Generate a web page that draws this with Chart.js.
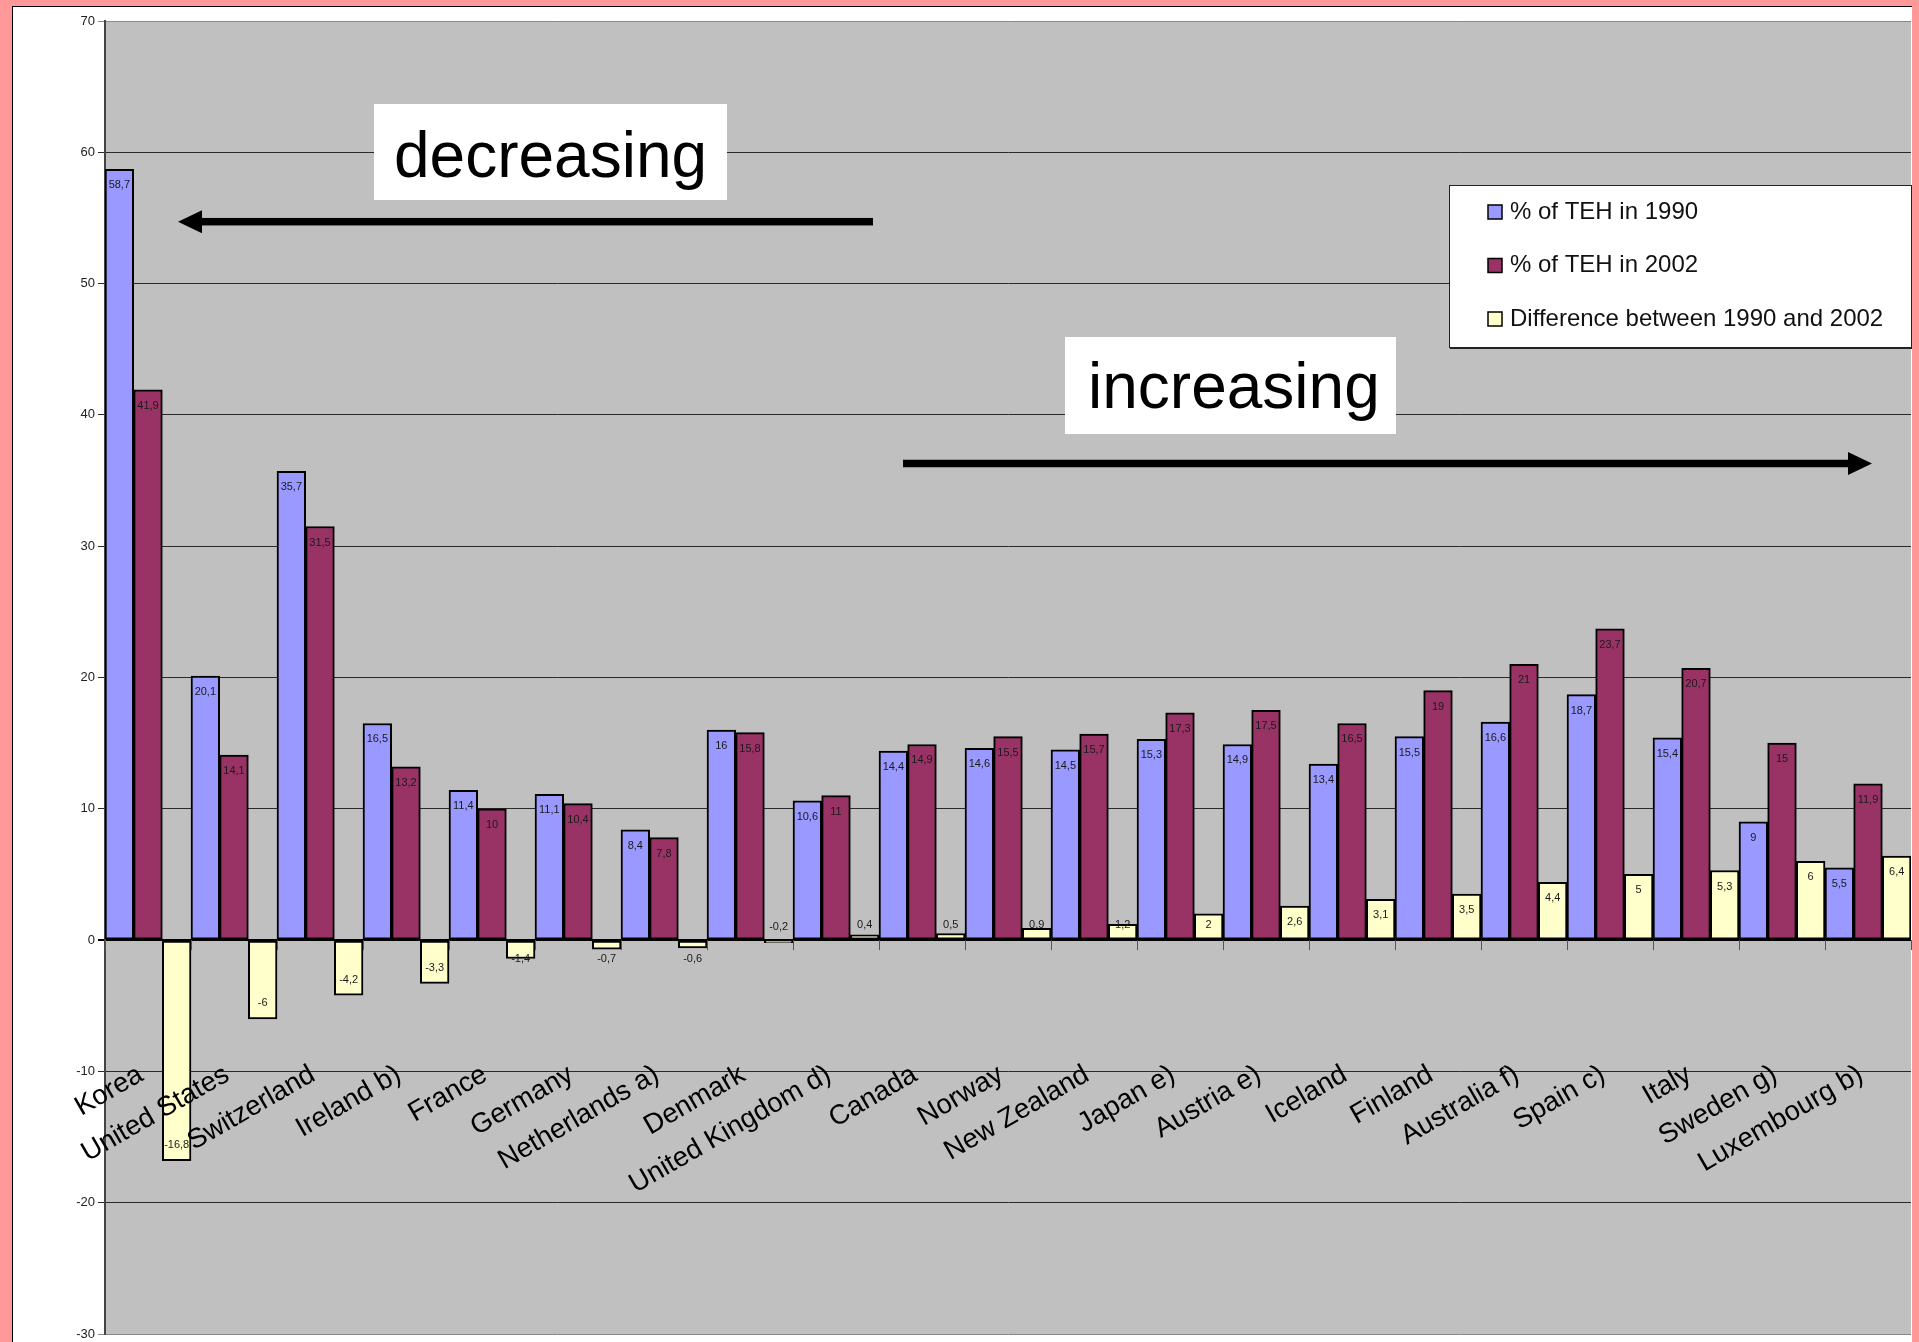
<!DOCTYPE html>
<html>
<head>
<meta charset="utf-8">
<title>% of TEH in 1990 and 2002</title>
<script src="https://cdn.jsdelivr.net/npm/chart.js@4.4.1/dist/chart.umd.min.js"></script>
<style>
  html, body { margin: 0; padding: 0; }
  body { width: 1919px; height: 1342px; background: #ff9999; position: relative; overflow: hidden; }
  #frame { position: absolute; left: 12px; top: 6px; width: 1899px; height: 1340px; background: #fff; border-left: 1px solid #000; border-top: 1px solid #000; }
  #c { position: absolute; left: 13px; top: 7px; }
</style>
</head>
<body>
<div id="frame"></div>
<canvas id="c" width="1899" height="1335"></canvas>
<script>
// Data
const countries = ['Korea', 'United States', 'Switzerland', 'Ireland b)', 'France', 'Germany',
  'Netherlands a)', 'Denmark', 'United Kingdom d)', 'Canada', 'Norway', 'New Zealand',
  'Japan e)', 'Austria e)', 'Iceland', 'Finland', 'Australia f)', 'Spain c)', 'Italy',
  'Sweden g)', 'Luxembourg b)'];
const teh1990 = [58.7, 20.1, 35.7, 16.5, 11.4, 11.1, 8.4, 16, 10.6, 14.4, 14.6, 14.5,
  15.3, 14.9, 13.4, 15.5, 16.6, 18.7, 15.4, 9, 5.5];
const teh2002 = [41.9, 14.1, 31.5, 13.2, 10, 10.4, 7.8, 15.8, 11, 14.9, 15.5, 15.7,
  17.3, 17.5, 16.5, 19, 21, 23.7, 20.7, 15, 11.9];
const difference = [-16.8, -6, -4.2, -3.3, -1.4, -0.7, -0.6, -0.2, 0.4, 0.5, 0.9, 1.2,
  2, 2.6, 3.1, 3.5, 4.4, 5, 5.3, 6, 6.4];
const seriesNames = ['% of TEH in 1990', '% of TEH in 2002', 'Difference between 1990 and 2002'];
const seriesColors = ['#9999ff', '#993366', '#ffffcc'];
const yMin = -30, yMax = 70, yStep = 10;
const notes = ['decreasing', 'increasing'];

const FONT = '"Liberation Sans", Arial, sans-serif';

// Draw an arrow with a filled head at (tipX, yy)
function drawArrow(ctx, fromX, tipX, yy) {
  const dir = tipX > fromX ? 1 : -1;
  const baseX = tipX - dir * 24;
  ctx.fillStyle = '#000';
  ctx.fillRect(Math.min(fromX, baseX), yy - 3.75, Math.abs(baseX - fromX), 7.5);
  ctx.beginPath();
  ctx.moveTo(tipX, yy);
  ctx.lineTo(baseX, yy - 11.5);
  ctx.lineTo(baseX, yy + 11.5);
  ctx.closePath();
  ctx.fill();
}

function drawNote(ctx, text, box, tx, ty) {
  ctx.fillStyle = '#fff';
  ctx.fillRect(box[0], box[1], box[2] - box[0], box[3] - box[1]);
  ctx.fillStyle = '#000';
  ctx.font = '64px ' + FONT;
  ctx.textAlign = 'left';
  ctx.textBaseline = 'alphabetic';
  ctx.fillText(text, tx, ty);
}

// grey plot area, painted before the grid
const plotBackground = {
  id: 'plotBackground',
  beforeDraw(chart) {
    const a = chart.chartArea;
    const ctx = chart.ctx;
    ctx.save();
    ctx.fillStyle = '#c0c0c0';
    ctx.fillRect(a.left, a.top, a.right - a.left, a.bottom - a.top);
    ctx.restore();
  }
};

const overlay = {
  id: 'overlay',
  afterDatasetsDraw(chart) {
    const ctx = chart.ctx;
    const xs = chart.scales.x, ys = chart.scales.y;
    const zero = ys.getPixelForValue(0);
    const half = (xs.getPixelForValue(1) - xs.getPixelForValue(0)) / 2;
    ctx.save();

    // category tick marks under the zero line
    ctx.strokeStyle = '#555';
    ctx.lineWidth = 1;
    for (let i = 0; i <= countries.length; i++) {
      const px = Math.round(xs.getPixelForValue(i) - half) + 0.5;
      ctx.beginPath();
      ctx.moveTo(px, zero);
      ctx.lineTo(px, zero + 10);
      ctx.stroke();
    }

    // value labels
    ctx.font = '11px ' + FONT;
    ctx.fillStyle = '#1a1a1a';
    ctx.textAlign = 'center';
    ctx.textBaseline = 'middle';
    chart.data.datasets.forEach((ds, di) => {
      chart.getDatasetMeta(di).data.forEach((bar, i) => {
        const v = ds.data[i];
        let cy;
        if (v >= 0) cy = Math.min(bar.y + 16, bar.base - 14.5);
        else if (bar.y - bar.base < 4) cy = bar.base - 14.5;
        else cy = Math.max(bar.y - 15.5, bar.base + 17.5);
        ctx.fillText(String(v).replace('.', ','), bar.x, cy);
      });
    });

    // rotated category labels
    ctx.font = '27.5px ' + FONT;
    ctx.fillStyle = '#000';
    ctx.textAlign = 'right';
    const ly = ys.getPixelForValue(-10.1);
    countries.forEach((name, i) => {
      ctx.save();
      ctx.translate(xs.getPixelForValue(i) - 7, ly);
      ctx.rotate(-Math.PI / 6);
      ctx.fillText(name, 0, 0);
      ctx.restore();
    });

    // annotations
    drawNote(ctx, notes[0], [361, 97, 714, 193], 381, 170);
    drawArrow(ctx, 860, 165, 214.7);
    drawNote(ctx, notes[1], [1052, 330, 1383, 427], 1075, 401);
    drawArrow(ctx, 890, 1859, 456.5);

    // legend
    ctx.fillStyle = '#fff';
    ctx.fillRect(1436, 178, 463, 163);
    ctx.strokeStyle = '#222';
    ctx.lineWidth = 1;
    ctx.strokeRect(1436.5, 178.5, 462, 162);
    ctx.beginPath();
    ctx.moveTo(1437, 341.5); ctx.lineTo(1899, 341.5);
    ctx.stroke();
    ctx.font = '24px ' + FONT;
    ctx.textAlign = 'left';
    ctx.textBaseline = 'alphabetic';
    chart.data.datasets.forEach((ds, di) => {
      const cy = 205 + di * 53.5;
      ctx.fillStyle = ds.backgroundColor;
      ctx.fillRect(1475, cy - 7, 14, 14);
      ctx.strokeStyle = '#000';
      ctx.lineWidth = 1.5;
      ctx.strokeRect(1475, cy - 7, 14, 14);
      ctx.fillStyle = '#111';
      ctx.fillText(ds.label, 1497, cy + 6.5);
    });

    ctx.restore();
  }
};

const datasets = [teh1990, teh2002, difference].map((vals, i) => ({
  label: seriesNames[i],
  data: vals,
  backgroundColor: seriesColors[i],
  borderColor: '#000',
  borderWidth: 2,
  borderSkipped: false,
  barPercentage: 1,
  categoryPercentage: 1
}));

new Chart(document.getElementById('c'), {
  type: 'bar',
  data: { labels: countries, datasets: datasets },
  options: {
    responsive: false,
    devicePixelRatio: 1,
    animation: false,
    layout: { padding: { top: 14, right: 1, bottom: 8, left: 0 } },
    plugins: {
      legend: { display: false },
      tooltip: { enabled: false }
    },
    scales: {
      x: { display: false },
      y: {
        min: yMin,
        max: yMax,
        ticks: {
          stepSize: yStep,
          color: '#222',
          padding: 3,
          font: { family: FONT, size: 13 }
        },
        grid: {
          tickLength: 7,
          color: c => c.tick && c.tick.value === 0 ? '#000' :
            (c.tick && (c.tick.value === yMax || c.tick.value === yMin) ? '#888' : '#2a2a2a'),
          lineWidth: c => c.tick && c.tick.value === 0 ? 2 : 1
        },
        border: { color: '#444', width: 2 },
        afterFit(scale) {
          scale.width = 92;
          scale.paddingTop = 0;
          scale.paddingBottom = 0;
        }
      }
    }
  },
  plugins: [plotBackground, overlay]
});
</script>
</body>
</html>
